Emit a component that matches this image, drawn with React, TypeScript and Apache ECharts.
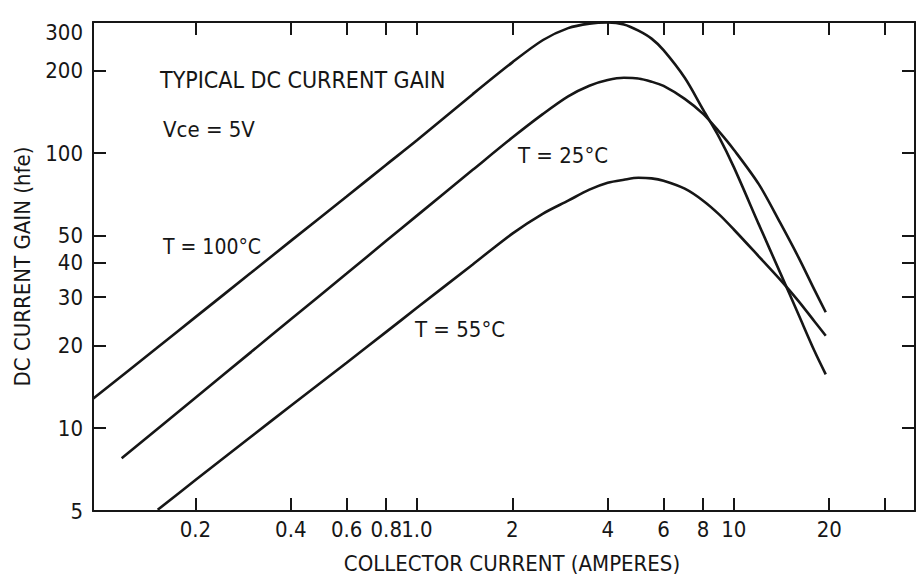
import React, { useEffect, useRef } from "react";
import * as echarts from "echarts";

// Tick positions and labels
const xTickValues = [0.2, 0.4, 0.6, 0.8, 1, 2, 4, 6, 8, 10, 20, 30];
const xLabelValues = [0.2, 0.4, 0.6, 0.8, 1, 2, 4, 6, 8, 10, 20];
const xLabelTexts = ["0.2", "0.4", "0.6", "0.8", "1.0", "2", "4", "6", "8", "10", "20"];
const yTickValues = [10, 20, 30, 40, 50, 100, 200];
const yLabelValues = [5, 10, 20, 30, 40, 50, 100, 200, 300];

// Curve next to "T = 100°C" (top)
const current100 = [0.095, 0.15, 0.2, 0.3, 0.4, 0.6, 0.8, 1, 1.5, 2, 2.5, 3, 3.5, 4, 4.5, 5, 5.5, 6, 7, 8, 9, 10, 12, 14, 16, 18, 19.5];
const gain100 = [12.8, 19.45, 25.35, 36.8, 48, 69.6, 90.8, 111.4, 164, 214, 258, 285, 296, 299, 294, 279, 261, 237, 188, 144, 114, 89, 55, 36.8, 25.9, 19, 15.7];

// Curve next to "T = 25°C" (middle)
const current25 = [0.117, 0.2, 0.3, 0.4, 0.6, 0.8, 1, 1.5, 2, 2.5, 3, 3.5, 4, 4.5, 5, 5.5, 6, 7, 8, 9, 10, 12, 14, 16, 18, 19.5];
const gain25 = [7.77, 12.9, 18.95, 24.9, 36.5, 48, 59.3, 87, 114, 139, 161, 176, 184.5, 188, 187, 182, 175.6, 157.6, 139, 119.6, 103, 77, 55.9, 41.8, 31.7, 26.4];

// Curve next to "T = 55°C" (bottom)
const current55 = [0.152, 0.2, 0.3, 0.4, 0.6, 0.8, 1, 1.5, 2, 2.5, 3, 3.5, 4, 4.5, 5, 5.5, 6, 7, 8, 9, 10, 12, 14, 16, 18, 19.5];
const gain55 = [5.05, 6.48, 9.33, 12.07, 17.3, 22.4, 27.4, 39.4, 51, 60.3, 67.2, 73.7, 78.1, 80.1, 81.4, 81, 79.4, 74.3, 67.2, 59.8, 52.8, 42.1, 34.7, 29, 24.4, 21.7];

const pairs = (xs: number[], ys: number[]) => xs.map((x, i) => [x, ys[i]]);

export default function App() {
  const ref = useRef<HTMLDivElement>(null);

  useEffect(() => {
    if (!ref.current) return;
    const chart = echarts.init(ref.current, null, { renderer: "svg" });
    const font = '"Liberation Sans Narrow", "DejaVu Sans Condensed", "Arial Narrow", sans-serif';
    const ink = "#161616";
    const fs = 22;

    const tickStyle = { show: true, inside: true, length: 13, lineStyle: { color: ink, width: 2 } };
    const lineStyle = { show: true, lineStyle: { color: ink, width: 2 } };

    const xFmt = (v: number) => {
      const i = xLabelValues.findIndex((t) => Math.abs(t - v) < 1e-9);
      return i >= 0 ? xLabelTexts[i] : "";
    };

    const seriesBase = {
      type: "line" as const,
      smooth: 0.3,
      showSymbol: false,
      symbol: "none",
      lineStyle: { color: ink, width: 2.6 },
      silent: true,
      clip: true,
    };

    chart.setOption({
      animation: false,
      backgroundColor: "#ffffff",
      grid: { left: 93, right: 1, top: 22, bottom: 67, containLabel: false },
      xAxis: [
        {
          type: "log",
          position: "bottom",
          min: 0.095,
          max: 37.3,
          axisLine: lineStyle,
          axisTick: { ...tickStyle, customValues: xTickValues },
          minorTick: { show: false },
          splitLine: { show: false },
          axisLabel: {
            customValues: xLabelValues,
            formatter: xFmt,
            color: ink,
            fontFamily: font,
            fontSize: fs,
            margin: 7,
          },
          name: "COLLECTOR CURRENT (AMPERES)",
          nameLocation: "middle",
          nameGap: 41,
          nameTextStyle: { color: ink, fontFamily: font, fontSize: fs, padding: [0, 0, 0, 16] },
        },
        {
          type: "log",
          position: "top",
          min: 0.095,
          max: 37.3,
          axisLine: lineStyle,
          axisTick: { ...tickStyle, customValues: xTickValues },
          splitLine: { show: false },
          axisLabel: { show: false },
        },
      ],
      yAxis: [
        {
          type: "log",
          position: "left",
          min: 5,
          max: 300,
          axisLine: lineStyle,
          axisTick: { ...tickStyle, customValues: yTickValues },
          splitLine: { show: false },
          axisLabel: {
            customValues: yLabelValues,
            formatter: (v: number) => (Math.abs(v - 300) < 1e-6 ? "{lo|300}" : String(Math.round(v))),
            rich: { lo: { color: ink, fontFamily: font, fontSize: fs, padding: [20, 0, 0, 0] } },
            color: ink,
            fontFamily: font,
            fontSize: fs,
            margin: 10,
          },
          name: "DC CURRENT GAIN (hfe)",
          nameLocation: "middle",
          nameGap: 60,
          nameTextStyle: { color: ink, fontFamily: font, fontSize: fs },
        },
        {
          type: "log",
          position: "right",
          min: 5,
          max: 300,
          axisLine: lineStyle,
          axisTick: { ...tickStyle, customValues: yTickValues },
          splitLine: { show: false },
          axisLabel: { show: false },
        },
      ],
      series: [
        { ...seriesBase, name: "T = 100°C", data: pairs(current100, gain100) },
        { ...seriesBase, name: "T = 25°C", data: pairs(current25, gain25) },
        { ...seriesBase, name: "T = 55°C", data: pairs(current55, gain55) },
      ],
      graphic: [
        { type: "text", left: 160, top: 68, style: { text: "TYPICAL DC CURRENT GAIN", fontFamily: font, fontSize: 23, fill: ink } },
        { type: "text", left: 163, top: 118, style: { text: "Vce = 5V", fontFamily: font, fontSize: fs, fill: ink } },
        { type: "text", left: 163, top: 236, style: { text: "T = 100°C", fontFamily: font, fontSize: 21, fill: ink } },
        { type: "text", left: 518, top: 144, style: { text: "T = 25°C", fontFamily: font, fontSize: fs, fill: ink } },
        { type: "text", left: 415, top: 318, style: { text: "T = 55°C", fontFamily: font, fontSize: fs, fill: ink } },
      ],
    });

    return () => chart.dispose();
  }, []);

  return (
    <div
      ref={ref}
      style={{ position: "fixed", left: 0, top: 0, width: 916, height: 579, background: "#ffffff" }}
    />
  );
}
